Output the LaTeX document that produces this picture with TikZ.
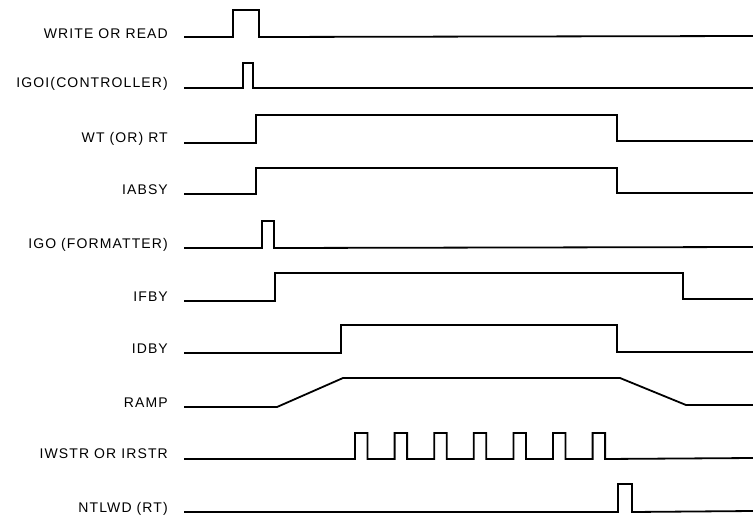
\documentclass[tikz,border=0pt]{standalone}
\usepackage{fontspec}
\newfontfamily\labfont[LetterSpace=8]{Liberation Sans}
\begin{document}
\begin{tikzpicture}[x=1pt,y=-1pt,
  sig/.style={line width=1.8pt, line join=miter, line cap=butt},
  lab/.style={anchor=base east, inner sep=0pt, font=\labfont\fontsize{14}{16}\selectfont}]
\useasboundingbox (0,0) rectangle (753,517);
\def\xs{184}
\def\xe{753}
\def\lx{168}
% labels
\node[lab] (l1)  at (\lx,38)  {WRITE OR READ};
\node[lab] (l2)  at (\lx,87)  {IGOI(CONTROLLER)};
\node[lab] (l3)  at (\lx,142) {WT (OR) RT};
\node[lab] (l4)  at (\lx,194) {IABSY};
\node[lab] (l5)  at (\lx,248) {IGO (FORMATTER)};
\node[lab] (l6)  at (\lx,301) {IFBY};
\node[lab] (l7)  at (\lx,353) {IDBY};
\node[lab] (l8)  at (\lx,407) {RAMP};
\node[lab] (l9)  at (\lx,458) {IWSTR OR IRSTR};
\node[lab] (l10) at (\lx,512) {NTLWD (RT)};
% signals
\draw[sig] (\xs,37) -- (233,37) -- (233,10) -- (259,10) -- (259,37) -- (\xe,36);
\draw[sig] (\xs,88) -- (243,88) -- (243,63) -- (253,63) -- (253,88) -- (\xe,88);
\draw[sig] (\xs,143) -- (256,143) -- (256,115) -- (617,115) -- (617,141) -- (\xe,141);
\draw[sig] (\xs,194) -- (256,194) -- (256,168) -- (617,168) -- (617,193) -- (\xe,193);
\draw[sig] (\xs,248) -- (262,248) -- (262,221) -- (274,221) -- (274,248) -- (\xe,247);
\draw[sig] (\xs,301) -- (275,301) -- (275,273) -- (683,273) -- (683,299) -- (\xe,299);
\draw[sig] (\xs,353) -- (341,353) -- (341,325) -- (617,325) -- (617,352) -- (\xe,352);
\draw[sig] (\xs,407) -- (277,407) -- (343,378) -- (620,378) -- (686,405) -- (\xe,405);
\draw[sig] (\xs,459)
  \foreach \k in {0,...,6} { -- ({355+39.6*\k},459) -- ({355+39.6*\k},433) -- ({367.5+39.6*\k},433) -- ({367.5+39.6*\k},459) }
  -- (\xe,458);
\draw[sig] (\xs,512) -- (618,512) -- (618,484) -- (632,484) -- (632,512) -- (\xe,511);
\end{tikzpicture}
\end{document}
